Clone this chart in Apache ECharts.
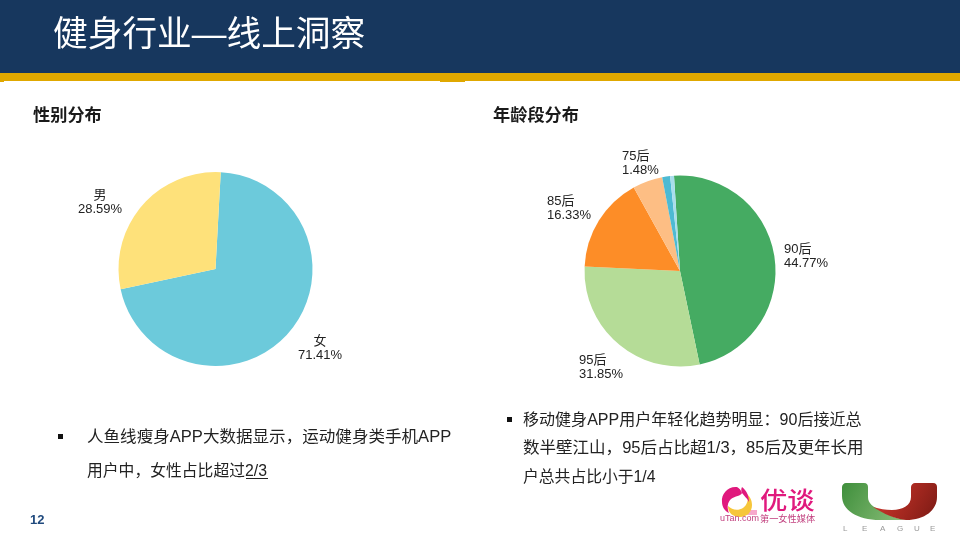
<!DOCTYPE html>
<html>
<head>
<meta charset="utf-8">
<script src="https://cdn.jsdelivr.net/npm/echarts@6/dist/echarts.min.js"></script>
<style>
  html, body { margin: 0; padding: 0; background: #fff; }
  #main { width: 960px; height: 540px; }
</style>
</head>
<body>
<div id="main"></div>
<script>
var FONT = '"Liberation Sans", "Noto Sans CJK SC", sans-serif';

var genderNames = ['女', '男'];
var genderShares = [70.8, 29.2];
var genderPrinted = ['71.41%', '28.59%'];

// 年龄段分布: same thing, the printed percentages do not quite match the drawn slices
var ageNames = ['90后', '95后', '85后', '80后', '75后', '70后'];
var ageShares = [47.7, 29.05, 16.2, 5.06, 1.34, 0.65];
var agePrinted = ['44.77%', '31.85%', '16.33%', '', '1.48%', ''];

var genderColors = ['#6CCADB', '#FEE17A'];
var ageColors = ['#45AB62', '#B5DC97', '#FD8D27', '#FDBE84', '#4DBAD3', '#A8DDEB'];

function pieData(names, shares, printed, colors) {
  return names.map(function (n, i) {
    return {
      name: n,
      value: shares[i],
      printed: printed[i],
      itemStyle: { color: colors[i] },
      label: { show: printed[i] !== '' },
      labelLine: { show: false }
    };
  });
}

function labelAt(list, align) {
  return function (p) {
    var pos = list[p.dataIndex];
    return { x: pos[0], y: pos[1], align: align, verticalAlign: 'middle' };
  };
}

function txt(x, y, text, size, color, extra, stretch) {
  var s = { x: 0, y: 0, text: text, fontSize: size, fontFamily: FONT, fill: color, verticalAlign: 'middle' };
  for (var k in (extra || {})) s[k] = extra[k];
  return { type: 'text', x: x, y: y, scaleX: stretch || 1, style: s, z: 5 };
}
function box(x, y, w, h, color) {
  return { type: 'rect', shape: { x: x, y: y, width: w, height: h }, style: { fill: color }, z: 1 };
}
function grad(c1, c2) {
  return { type: 'linear', x: 0, y: 0, x2: 1, y2: 1, colorStops: [{ offset: 0, color: c1 }, { offset: 1, color: c2 }] };
}
// logo outlines, the graphic component has no plain path type
var shapeCount = 0;
function free(d, fill) {
  var name = 'logoShape' + (shapeCount++);
  echarts.graphic.registerShape(name, echarts.graphic.extendPath(d, {}));
  return { type: name, style: { fill: fill }, z: 3 };
}

var graphics = [
  // 页眉
  box(0, 0, 960, 73, '#17375E'),
  box(0, 73, 960, 8, '#E0A800'),
  box(0, 81, 4, 1, '#E0A800'),
  box(440, 81, 25, 1, '#E0A800'),
  txt(53, 36.5, '健身行业—线上洞察', 34.7, '#ffffff'),

  txt(33, 116, '性别分布', 17.2, '#1a1a1a', { fontWeight: 'bold' }),
  txt(493, 116, '年龄段分布', 17.2, '#1a1a1a', { fontWeight: 'bold' }),

  // 左侧说明
  box(58, 434, 5, 5, '#111111'),
  txt(87, 437.5, '人鱼线瘦身APP大数据显示，运动健身类手机APP', 15.8, '#222222', null, 1.048),
  txt(87, 471.5, '用户中，女性占比超过2/3', 15.8, '#222222'),
  box(246, 478, 22, 1, '#222222'),

  // 右侧说明
  box(507, 417, 5, 5, '#111111'),
  txt(523, 420.5, '移动健身APP用户年轻化趋势明显：90后接近总', 15.8, '#222222', null, 1.015),
  txt(523, 448.5, '数半壁江山，95后占比超1/3，85后及更年长用', 15.8, '#222222', null, 1.046),
  txt(523, 478, '户总共占比小于1/4', 15.8, '#222222'),

  txt(30, 520, '12', 13, '#1F497D', { fontWeight: 'bold' }),

  // 优谈 logo
  box(741, 510, 16, 5, '#F7A8CC'),
  free('M728 506 C728 513 733 517 740 517 C747 517 752 512 752 505 C752 499 749 496 747 494 C749 500 747 505 743 508 C738 511 732 510 728 506 Z', '#F6C63A'),
  free('M737 487 C728 486 721 494 722 502 C722 507 725 511 729 513 C727 508 727 503 731 499 C735 496 741 496 742 493 C741 490 739 488 737 487 Z', '#E0197D'),
  free('M742 487 C746 490 749 495 749 502 C747 498 744 496 742 493 C741 491 741 489 742 487 Z', '#E0197D'),
  txt(760, 502, '优谈', 24, '#E0197D', { fontWeight: 500 }, 1.14),
  txt(720, 519, 'uTan.com', 9, '#C2417F'),
  txt(760, 519, '第一女性媒体', 9.2, '#C2417F'),

  // U LEAGUE logo
  free('M846 483 L864 483 C867 483 868 485 868 487 L868 497 C868 503 873 507 880 510 C888 515 897 519 906 520 L880 520 C857 520 842 510 842 496 L842 487 C842 485 844 483 846 483 Z', grad('#3F8F3C', '#8CBF7A')),
  free('M915 483 L933 483 C936 483 937 485 937 487 L937 497 C937 510 925 520 906 520 C895 519 884 514 873 507 C880 509 885 510 892 510 C903 510 911 505 911 497 L911 487 C911 485 913 483 915 483 Z', grad('#D8392E', '#7A1A14')),
  txt(843, 529, 'L', 8, '#999999'), txt(862, 529, 'E', 8, '#999999'), txt(880, 529, 'A', 8, '#999999'),
  txt(897, 529, 'G', 8, '#999999'), txt(914, 529, 'U', 8, '#999999'), txt(930, 529, 'E', 8, '#999999')
];

var labelStyle = {
  position: 'outside',
  color: '#222222',
  fontSize: 13,
  lineHeight: 14,
  fontFamily: FONT,
  formatter: function (p) { return p.name + '\n' + p.data.printed; }
};

var chart = echarts.init(document.getElementById('main'));
chart.setOption({
  animation: false,
  backgroundColor: '#ffffff',
  graphic: graphics,
  series: [
    {
      type: 'pie',
      center: [215.5, 269],
      radius: [0, 97],
      startAngle: 86.9,
      clockwise: true,
      silent: true,
      label: labelStyle,
      labelLine: { show: false },
      labelLayout: labelAt([[320, 348.5], [100, 202.5]], 'center'),
      data: pieData(genderNames, genderShares, genderPrinted, genderColors)
    },
    {
      type: 'pie',
      center: [680, 271],
      radius: [0, 95.5],
      startAngle: 93.6,
      clockwise: true,
      silent: true,
      label: labelStyle,
      labelLine: { show: false },
      labelLayout: labelAt([[784, 256], [579, 367], [547, 208.5], [0, 0], [622, 163], [0, 0]], 'left'),
      data: pieData(ageNames, ageShares, agePrinted, ageColors)
    }
  ]
});
</script>
</body>
</html>
